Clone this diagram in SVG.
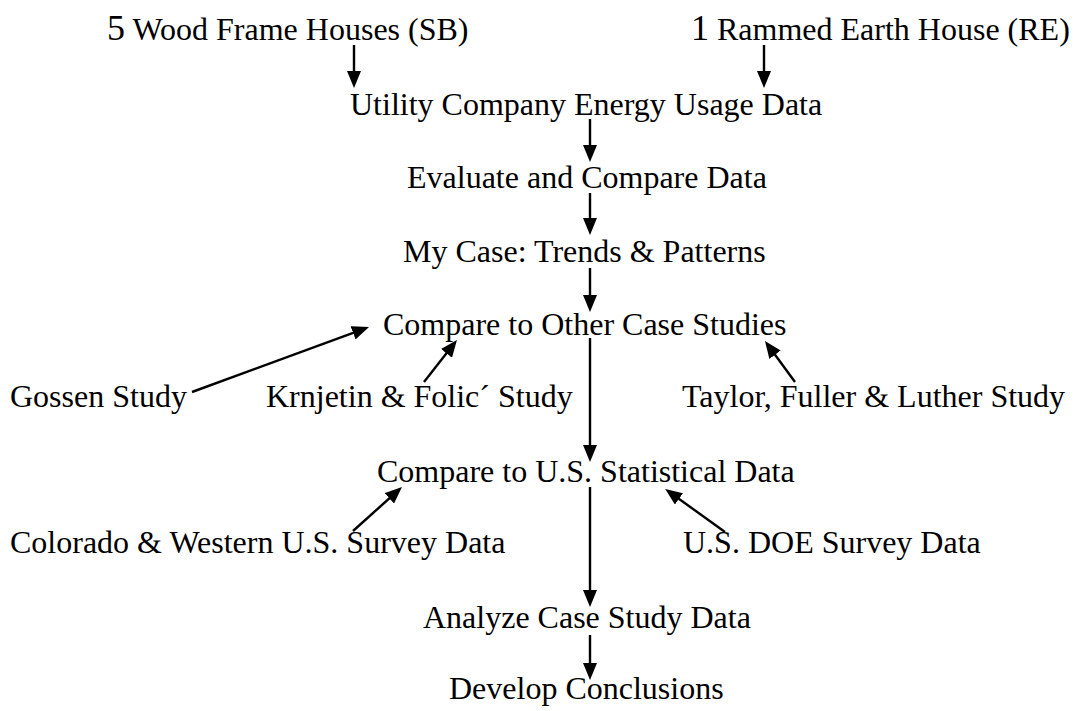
<svg xmlns="http://www.w3.org/2000/svg" width="1075" height="711" viewBox="0 0 1075 711">
<style>
text{font-family:"Liberation Serif","Times New Roman",serif;font-size:32px;fill:#000}
.big{font-size:36px}
.c line{stroke:#000;stroke-width:2.4;marker-end:url(#ah)}
</style>
<defs>
<marker id="ah" viewBox="0 0 17 14" refX="8" refY="7" markerWidth="17" markerHeight="14" markerUnits="userSpaceOnUse" orient="auto">
<path d="M0,0 L17,7 L0,14 z" fill="#000"/>
</marker>
</defs>
<rect width="1075" height="711" fill="#fff"/>
<g id="n-wood"><text x="107" y="40"><tspan class="big">5</tspan> Wood Frame Houses (SB)</text></g>
<g id="n-rammed"><text x="691" y="40"><tspan class="big">1</tspan> Rammed Earth House (RE)</text></g>
<g id="n-utility"><text x="350" y="115">Utility Company Energy Usage Data</text></g>
<g id="n-evaluate"><text x="407" y="188">Evaluate and Compare Data</text></g>
<g id="n-mycase"><text x="403" y="262">My Case: Trends &amp; Patterns</text></g>
<g id="n-compare-other"><text x="383" y="335">Compare to Other Case Studies</text></g>
<g id="n-gossen"><text x="10" y="407">Gossen Study</text></g>
<g id="n-krnjetin"><text x="266" y="407">Krnjetin &amp; Folic´ Study</text></g>
<g id="n-taylor"><text x="682" y="407">Taylor, Fuller &amp; Luther Study</text></g>
<g id="n-compare-us"><text x="377" y="482">Compare to U.S. Statistical Data</text></g>
<g id="n-colorado"><text x="10" y="553">Colorado &amp; Western U.S. Survey Data</text></g>
<g id="n-doe"><text x="683" y="553">U.S. DOE Survey Data</text></g>
<g id="n-analyze"><text x="423" y="628">Analyze Case Study Data</text></g>
<g id="n-develop"><text x="449" y="699">Develop Conclusions</text></g>
<g id="connectors" class="c">
<line x1="354" y1="45" x2="354" y2="79"/>
<line x1="764" y1="45" x2="764" y2="79"/>
<line x1="590" y1="119" x2="590" y2="153"/>
<line x1="590" y1="193" x2="590" y2="226"/>
<line x1="590" y1="268" x2="590" y2="303"/>
<line x1="192" y1="392" x2="360.6" y2="330.1"/>
<line x1="424" y1="382" x2="451.4" y2="347.1"/>
<line x1="795" y1="382" x2="770.3" y2="348.3"/>
<line x1="590" y1="338" x2="590" y2="453"/>
<line x1="353" y1="531" x2="395.3" y2="493"/>
<line x1="725" y1="532" x2="672.5" y2="494.2"/>
<line x1="590" y1="487" x2="590" y2="598"/>
<line x1="590" y1="635" x2="590" y2="671"/>
</g>
</svg>
